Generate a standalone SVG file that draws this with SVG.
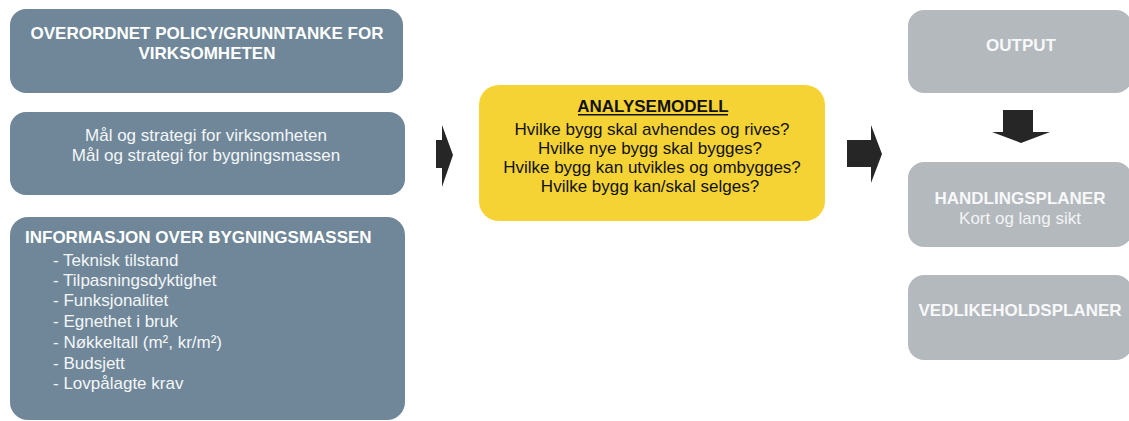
<svg xmlns="http://www.w3.org/2000/svg" width="1129" height="421" viewBox="0 0 1129 421">
  <style>
    .slate { fill: #6f8798; }
    .grey { fill: #b4b9be; }
    .yellow { fill: #f6d335; }
    .t { font-family: "Liberation Sans", Arial, sans-serif; }
    .wb { fill: #ffffff; font-weight: bold; font-size: 17px; }
    .w { fill: #f4f6f8; font-size: 17px; }
    .gb { fill: #f7f8f9; font-weight: bold; font-size: 17px; }
    .g { fill: #f3f4f5; font-size: 17px; }
    .k { fill: #111111; font-size: 17px; }
    .arrow { fill: #262626; }
  </style>
  <rect width="1129" height="421" fill="#ffffff"/>

  <!-- left column -->
  <g id="policy">
    <rect class="slate" x="10" y="9" width="393" height="84" rx="16"/>
    <text class="t wb" text-anchor="middle" x="207" y="39">OVERORDNET POLICY/GRUNNTANKE FOR</text>
    <text class="t wb" text-anchor="middle" x="207" y="59">VIRKSOMHETEN</text>
  </g>
  <g id="strategi">
    <rect class="slate" x="10" y="112" width="395" height="83" rx="16"/>
    <text class="t w" text-anchor="middle" x="206" y="141">Mål og strategi for virksomheten</text>
    <text class="t w" text-anchor="middle" x="206" y="161">Mål og strategi for bygningsmassen</text>
  </g>
  <g id="informasjon">
    <rect class="slate" x="10" y="217" width="395" height="203" rx="18"/>
    <text class="t wb" x="25" y="243">INFORMASJON OVER BYGNINGSMASSEN</text>
    <text class="t w" x="53" y="266">- Teknisk tilstand</text>
    <text class="t w" x="53" y="286">- Tilpasningsdyktighet</text>
    <text class="t w" x="53" y="306">- Funksjonalitet</text>
    <text class="t w" x="53" y="327">- Egnethet i bruk</text>
    <text class="t w" x="53" y="348">- Nøkkeltall (m², kr/m²)</text>
    <text class="t w" x="53" y="369">- Budsjett</text>
    <text class="t w" x="53" y="389">- Lovpålagte krav</text>
  </g>

  <!-- centre -->
  <g id="analysemodell">
    <rect class="yellow" x="479" y="85" width="346" height="136" rx="20"/>
    <text class="t k" font-weight="bold" text-anchor="middle" x="653" y="112">ANALYSEMODELL</text>
    <rect x="578" y="114" width="150" height="1.5" fill="#111111"/>
    <text class="t k" text-anchor="middle" x="652" y="135">Hvilke bygg skal avhendes og rives?</text>
    <text class="t k" text-anchor="middle" x="650" y="154">Hvilke nye bygg skal bygges?</text>
    <text class="t k" text-anchor="middle" x="652" y="173">Hvilke bygg kan utvikles og ombygges?</text>
    <text class="t k" text-anchor="middle" x="650" y="192">Hvilke bygg kan/skal selges?</text>
  </g>

  <!-- right column -->
  <g id="output">
    <rect class="grey" x="908" y="10" width="224" height="83" rx="16"/>
    <text class="t gb" text-anchor="middle" x="1021" y="51">OUTPUT</text>
  </g>
  <g id="handlingsplaner">
    <rect class="grey" x="908" y="162" width="224" height="85" rx="16"/>
    <text class="t gb" text-anchor="middle" x="1020" y="204">HANDLINGSPLANER</text>
    <text class="t g" text-anchor="middle" x="1020" y="224">Kort og lang sikt</text>
  </g>
  <g id="vedlikeholdsplaner">
    <rect class="grey" x="908" y="275" width="224" height="85" rx="16"/>
    <text class="t gb" text-anchor="middle" x="1020" y="316">VEDLIKEHOLDSPLANER</text>
  </g>

  <!-- block arrows -->
  <g id="connectors">
    <polygon class="arrow" points="436,140 442,140 442,125 453,155 442,187 442,168 436,168"/>
    <polygon class="arrow" points="847,140 871,140 871,125 882,154 871,183 871,167 847,167"/>
    <polygon class="arrow" points="1003,110 1033,110 1033,132 1050,132 1021,143 992,132 1003,132"/>
  </g>
</svg>
